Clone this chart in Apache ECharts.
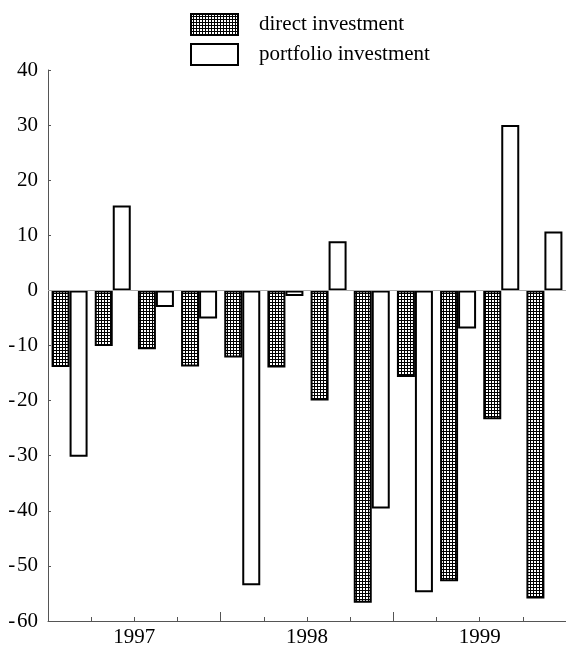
<!DOCTYPE html>
<html>
<head>
<meta charset="utf-8">
<script src="https://cdn.jsdelivr.net/npm/echarts@6/dist/echarts.min.js"></script>
<style>
  html, body { margin: 0; padding: 0; background: #fff; }
  #chart { width: 566px; height: 648px; }
</style>
</head>
<body>
<div id="chart"></div>
<script>
var quarters = ['1997Q1', '1997Q2', '1997Q3', '1997Q4', '1998Q1', '1998Q2', '1998Q3', '1998Q4', '1999Q1', '1999Q2', '1999Q3', '1999Q4'];
var directInvestment = [-13.9, -10.1, -10.7, -13.8, -12.2, -14.0, -20.0, -56.7, -15.7, -52.8, -23.4, -55.9];
var portfolioInvestment = [-30.2, 15.4, -3.0, -5.1, -53.5, -1.0, 8.9, -39.6, -54.8, -6.9, 30.0, 10.7];
var yearLabels = ['1997', '1998', '1999'];
var yearPositions = [2, 6, 10];
var yearBreaks = [4, 8];

var font = '"Liberation Serif", "Times New Roman", serif';

// cross-hatch fill for direct investment
function hatch() {
  var c = document.createElement('canvas');
  c.width = 3; c.height = 3;
  var ctx = c.getContext('2d');
  ctx.fillStyle = '#fff';
  ctx.fillRect(0, 0, 3, 3);
  ctx.fillStyle = '#000';
  ctx.fillRect(2, 0, 1, 3);
  ctx.fillRect(0, 2, 3, 1);
  return c;
}

var chart = echarts.init(document.getElementById('chart'));
chart.setOption({
  backgroundColor: '#fff',
  animation: false,
  textStyle: { fontFamily: font },
  legend: {
    orient: 'vertical',
    left: 190, top: 13,
    padding: 0,
    itemWidth: 47, itemHeight: 21, itemGap: 7,
    icon: 'rect',
    textStyle: { fontFamily: font, fontSize: 21, color: '#000', padding: [0, 0, 0, 16] },
    data: ['direct investment', 'portfolio investment']
  },
  grid: { left: 48, right: -9, top: 70, bottom: 21 },
  xAxis: [{
    type: 'category',
    data: quarters,
    position: 'bottom',
    axisLine: { onZero: false, lineStyle: { color: '#555', width: 1 } },
    axisTick: { show: true, inside: true, length: 4, interval: 0, lineStyle: { color: '#555' } },
    axisLabel: { show: false },
    splitLine: { show: false }
  }, {
    type: 'value',
    min: 0, max: 12,
    position: 'bottom',
    axisLine: { show: false, onZero: false },
    axisTick: { show: true, inside: true, length: 9, customValues: yearBreaks, lineStyle: { color: '#555' } },
    axisLabel: {
      customValues: yearPositions,
      margin: 6,
      fontFamily: font, fontSize: 21, color: '#000',
      formatter: function (v) { return yearLabels[yearPositions.indexOf(v)] || ''; }
    },
    splitLine: { show: false }
  }],
  yAxis: {
    type: 'value',
    min: -60, max: 40, interval: 10,
    axisLine: { show: true, lineStyle: { color: '#555', width: 1 } },
    axisTick: { inside: true, length: 3, lineStyle: { color: '#555' } },
    axisLabel: {
      margin: 10, fontFamily: font, fontSize: 21, color: '#000',
      formatter: function (v) { return v < 0 ? '-\u200A' + Math.abs(v) : String(v); }
    },
    splitLine: { show: false }
  },
  series: [{
    name: 'direct investment',
    type: 'bar',
    xAxisIndex: 0,
    barWidth: 18,
    barGap: '0%',
    data: directInvestment,
    itemStyle: { color: { image: hatch(), repeat: 'repeat' }, borderColor: '#000', borderWidth: 2 },
    markLine: {
      silent: true, symbol: 'none', label: { show: false },
      lineStyle: { color: '#aaa', width: 1, type: 'solid' },
      data: [{ yAxis: 0 }]
    }
  }, {
    name: 'portfolio investment',
    type: 'bar',
    xAxisIndex: 0,
    barWidth: 18,
    barGap: '0%',
    data: portfolioInvestment,
    itemStyle: { color: '#fff', borderColor: '#000', borderWidth: 2 }
  }]
});
</script>
</body>
</html>
